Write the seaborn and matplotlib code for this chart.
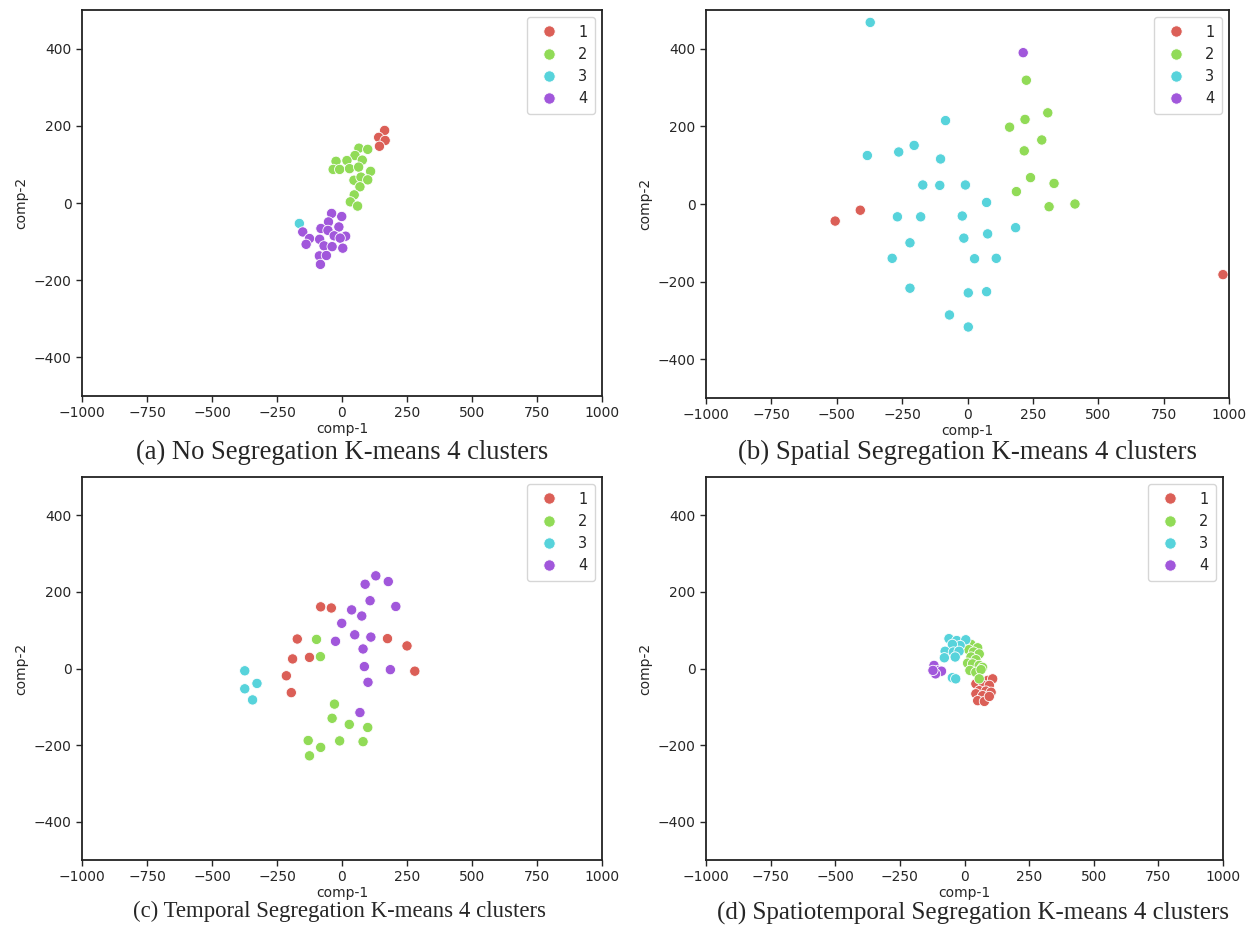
import numpy as np
import pandas as pd
import matplotlib
matplotlib.use("Agg")
import matplotlib.pyplot as plt
import seaborn as sns

# ---------------- data ----------------
# (a) No Segregation
a_c1_x = [164, 141, 166, 144]
a_c1_y = [188, 170, 162, 147]
a_c2_x = [65, 99, 50, 19, 78, -23, -34, -9, 29, 64, 110, 46, 73, 99, 69, 47, 32, 60]
a_c2_y = [142, 139, 123, 110, 111, 108, 87, 87, 89, 93, 82, 59, 67, 60, 42, 21, 3, -8]
a_c3_x = [-164]
a_c3_y = [-53]
a_c4_x = [-40, -1, -52, -12, -81, -54, -151, -30, 14, -7, -86, -125, -138, -69, -38, 3, -87, -60, -83]
a_c4_y = [-27, -35, -49, -62, -66, -71, -75, -85, -86, -91, -94, -92, -107, -111, -113, -117, -137, -136, -159]

# (b) Spatial Segregation
b_c1_x = [-410, -506, 977]
b_c1_y = [-16, -44, -182]
b_c2_x = [225, 307, 220, 161, 284, 217, 241, 187, 312, 331, 411]
b_c2_y = [319, 235, 218, 198, 165, 137, 68, 32, -7, 53, 0]
b_c3_x = [-372, -84, -383, -263, -204, -103, -171, -106, -8, 73, -268, -179, -20,
          184, -220, -14, 77, -288, 27, 110, -220, 3, 73, -69, 3]
b_c3_y = [468, 215, 125, 134, 151, 116, 49, 48, 49, 4, -33, -33, -31,
          -61, -100, -88, -77, -140, -141, -140, -217, -229, -226, -286, -317]
b_c4_x = [213]
b_c4_y = [390]

# (c) Temporal Segregation
c_c1_x = [-82, -41, -172, 175, 250, -190, -125, 280, -214, -195]
c_c1_y = [161, 158, 77, 78, 59, 25, 29, -7, -19, -63]
c_c2_x = [-98, -83, -29, -38, 28, 99, -130, -9, 81, -82, -125]
c_c2_y = [76, 31, -93, -130, -146, -154, -188, -189, -191, -206, -228]
c_c3_x = [-374, -327, -374, -344]
c_c3_y = [-6, -39, -53, -82]
c_c4_x = [130, 178, 89, 108, 207, 37, 76, -1, 49, 111, -25, 81, 86, 186, 100, 69]
c_c4_y = [242, 227, 220, 177, 162, 153, 137, 118, 88, 82, 71, 51, 5, -3, -36, -115]

# (d) Spatiotemporal Segregation
d_c1_x = [64, 90, 109, 44, 73, 96, 57, 83, 103, 44, 70, 51, 77, 96]
d_c1_y = [-30, -31, -27, -40, -44, -44, -58, -59, -62, -66, -71, -84, -86, -73]
d_c2_x = [25, 51, 16, 35, 57, 25, 44, 12, 31, 57, 70, 21, 44, 64, 57]
d_c2_y = [63, 54, 49, 43, 38, 30, 23, 14, 12, 8, 3, -5, -10, -3, -27]
d_c3_x = [-60, -30, 5, -17, -47, -75, -43, -21, -78, -36, -47, -34]
d_c3_y = [78, 73, 75, 60, 63, 45, 43, 45, 28, 30, -24, -27]
d_c4_x = [-118, -102, -89, -112, -122]
d_c4_y = [8, -5, -7, -14, -5]

cluster_labels = ["1", "2", "3", "4"]
x_ticks = [-1000, -750, -500, -250, 0, 250, 500, 750, 1000]
y_ticks = [-400, -200, 0, 200, 400]
captions = ["(a) No Segregation K-means 4 clusters",
            "(b) Spatial Segregation K-means 4 clusters",
            "(c) Temporal Segregation K-means 4 clusters",
            "(d) Spatiotemporal Segregation K-means 4 clusters"]


def make_df(xs, ys):
    rows = []
    for lab, xv, yv in zip(cluster_labels, xs, ys):
        for a, b in zip(xv, yv):
            rows.append({"comp-1": a, "comp-2": b, "cluster": lab})
    return pd.DataFrame(rows)


panels = [
    make_df([a_c1_x, a_c2_x, a_c3_x, a_c4_x], [a_c1_y, a_c2_y, a_c3_y, a_c4_y]),
    make_df([b_c1_x, b_c2_x, b_c3_x, b_c4_x], [b_c1_y, b_c2_y, b_c3_y, b_c4_y]),
    make_df([c_c1_x, c_c2_x, c_c3_x, c_c4_x], [c_c1_y, c_c2_y, c_c3_y, c_c4_y]),
    make_df([d_c1_x, d_c2_x, d_c3_x, d_c4_x], [d_c1_y, d_c2_y, d_c3_y, d_c4_y]),
]

sns.set_style("ticks")
plt.rcParams["font.family"] = ["DejaVu Sans"]

fig = plt.figure(figsize=(12.54, 9.25), dpi=100)
W, H = 1254.0, 925.0
# axes boxes in pixels: left, top, right, bottom
boxes = [(82, 10, 602, 396), (706, 10, 1229, 398), (82, 477, 602, 860), (706, 477, 1223, 860)]
cap_pos = [(342, 452), (967, 452), (339, 911), (973, 913)]
cap_size = [19.2, 19.4, 16.4, 18.0]
palette = sns.color_palette("hls", 4)

for df, (l, t, r, b), cap, (cx, cy), fs in zip(panels, boxes, captions, cap_pos, cap_size):
    ax = fig.add_axes([l / W, 1 - b / H, (r - l) / W, (b - t) / H])
    sns.scatterplot(data=df, x="comp-1", y="comp-2", hue="cluster",
                    hue_order=cluster_labels, palette=palette, s=55,
                    edgecolor="white", linewidth=0.6, ax=ax)
    ax.set_xlim(-1000, 1000)
    ax.set_ylim(-500, 500)
    ax.set_xticks(x_ticks)
    ax.set_yticks(y_ticks)
    ax.tick_params(labelsize=10, length=4, width=1)
    ax.set_xlabel("comp-1", fontsize=10, labelpad=1)
    ax.set_ylabel("comp-2", fontsize=10)
    for sp in ax.spines.values():
        sp.set_visible(True)
        sp.set_color("#222222")
        sp.set_linewidth(1.3)
    leg = ax.legend(loc="upper right", fontsize=10.5, title=None,
                    markerscale=1.1, borderpad=0.5, handletextpad=1.0)
    fig.text(cx / W, 1 - cy / H, cap, ha="center", va="center",
             fontsize=fs, family="Liberation Serif")

fig.savefig("out.png", dpi=100)
